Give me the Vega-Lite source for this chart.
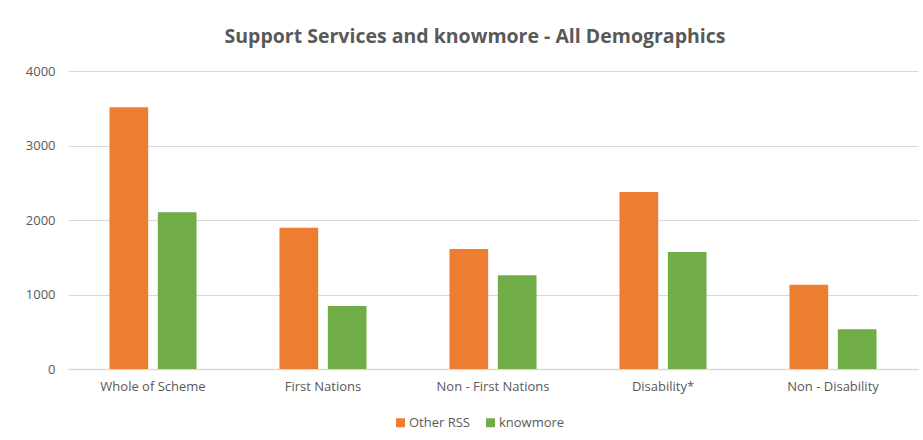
{
  "$schema": "https://vega.github.io/schema/vega-lite/v6.json",
  "autosize": {"type": "none"},
  "width": 850,
  "height": 298,
  "padding": {"left": 68, "top": 71, "right": 5, "bottom": 71},
  "background": "white",
  "title": {
    "text": "Support Services and knowmore - All Demographics",
    "font": "Open Sans",
    "fontSize": 19.5,
    "fontWeight": "bold",
    "color": "#595959",
    "anchor": "middle",
    "dx": -18,
    "offset": 18
  },
  "data": {
    "values": [
      {"group": "Whole of Scheme", "series": "Other RSS", "value": 3515},
      {"group": "Whole of Scheme", "series": "knowmore", "value": 2105},
      {"group": "First Nations", "series": "Other RSS", "value": 1895},
      {"group": "First Nations", "series": "knowmore", "value": 845},
      {"group": "Non - First Nations", "series": "Other RSS", "value": 1610},
      {"group": "Non - First Nations", "series": "knowmore", "value": 1260},
      {"group": "Disability*", "series": "Other RSS", "value": 2375},
      {"group": "Disability*", "series": "knowmore", "value": 1570},
      {"group": "Non - Disability", "series": "Other RSS", "value": 1130},
      {"group": "Non - Disability", "series": "knowmore", "value": 535}
    ]
  },
  "mark": {"type": "bar"},
  "encoding": {
    "x": {
      "field": "group",
      "type": "nominal",
      "sort": ["Whole of Scheme", "First Nations", "Non - First Nations", "Disability*", "Non - Disability"],
      "scale": {"paddingInner": 0.488, "paddingOuter": 0.244},
      "axis": {
        "title": null,
        "labelAngle": 0,
        "labelFont": "Open Sans",
        "labelFontSize": 13,
        "labelColor": "#595959",
        "labelPadding": 11,
        "ticks": false,
        "domainColor": "#D9D9D9",
        "domainWidth": 1.5
      }
    },
    "xOffset": {
      "field": "series",
      "type": "nominal",
      "sort": ["Other RSS", "knowmore"],
      "scale": {"paddingInner": 0.2, "paddingOuter": 0}
    },
    "y": {
      "field": "value",
      "type": "quantitative",
      "scale": {"domain": [0, 4000]},
      "axis": {
        "title": null,
        "values": [0, 1000, 2000, 3000, 4000],
        "format": "d",
        "labelFont": "Open Sans",
        "labelFontSize": 13,
        "labelColor": "#595959",
        "labelPadding": 13,
        "ticks": false,
        "domain": false,
        "gridColor": "#D9D9D9",
        "gridWidth": 1
      }
    },
    "color": {
      "field": "series",
      "type": "nominal",
      "sort": ["Other RSS", "knowmore"],
      "scale": {"domain": ["Other RSS", "knowmore"], "range": ["#ED7D31", "#70AD47"]},
      "legend": {
        "title": null,
        "orient": "none",
        "direction": "horizontal",
        "legendX": 326,
        "legendY": 345,
        "symbolType": "square",
        "symbolSize": 81,
        "symbolStrokeWidth": 0,
        "labelFont": "Open Sans",
        "labelFontSize": 13,
        "labelColor": "#595959",
        "columnPadding": 14,
        "labelOffset": 2
      }
    }
  },
  "config": {"view": {"stroke": null}}
}
